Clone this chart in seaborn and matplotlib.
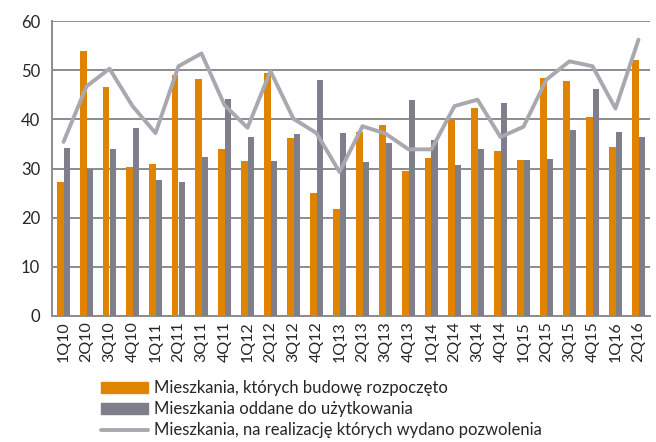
import numpy as np
import pandas as pd
import matplotlib
matplotlib.use("Agg")
import matplotlib.pyplot as plt
import seaborn as sns
from matplotlib.patches import Patch
from matplotlib.lines import Line2D

# Data (thousands of dwellings per quarter)
quarters = ['1Q10', '2Q10', '3Q10', '4Q10', '1Q11', '2Q11', '3Q11', '4Q11',
            '1Q12', '2Q12', '3Q12', '4Q12', '1Q13', '2Q13', '3Q13', '4Q13',
            '1Q14', '2Q14', '3Q14', '4Q14', '1Q15', '2Q15', '3Q15', '4Q15',
            '1Q16', '2Q16']
started = [27.3, 53.8, 46.6, 30.3, 31.0, 49.0, 48.3, 33.9, 31.5, 49.4, 36.2, 25.1,
           21.7, 37.4, 38.9, 29.5, 32.2, 40.1, 42.3, 33.6, 31.8, 48.5, 47.8, 40.4,
           34.3, 52.0]
completed = [34.1, 29.8, 33.9, 38.3, 27.6, 27.2, 32.4, 44.2, 36.4, 31.6, 37.0, 48.1,
             37.2, 31.4, 35.2, 43.9, 35.7, 30.7, 33.9, 43.3, 31.8, 32.0, 37.8, 46.2,
             37.4, 36.4]
permits = [35.4, 46.7, 50.3, 42.7, 37.2, 50.8, 53.4, 42.9, 38.3, 49.8, 40.1, 37.2,
           29.3, 38.6, 37.1, 33.9, 33.9, 42.7, 44.0, 36.4, 38.5, 48.1, 51.8, 50.8,
           42.2, 56.2]

label_started = 'Mieszkania, których budowę rozpoczęto'
label_completed = 'Mieszkania oddane do użytkowania'
label_permits = 'Mieszkania, na realizację których wydano pozwolenia'

ORANGE = '#E08300'
GRAY = '#7F7F8B'
LINE = '#A8A8B0'
GRID = '#8C8C8C'

sns.set_style("white")
plt.rcParams['font.family'] = ['Lato', 'DejaVu Sans']

bars = pd.DataFrame({
    'Kwartał': quarters * 2,
    'Wartość': started + completed,
    'Seria': [label_started] * len(quarters) + [label_completed] * len(quarters),
})

fig = plt.figure(figsize=(6.56, 4.42), dpi=100)
ax = fig.add_axes([52 / 656, 1 - 316 / 442, 598 / 656, 295 / 442])

sns.barplot(data=bars, x='Kwartał', y='Wartość', hue='Seria',
            palette=[ORANGE, GRAY], width=0.6, gap=0.0, saturation=1,
            linewidth=0, order=quarters, ax=ax, legend=False, zorder=3)
sns.lineplot(x=np.arange(len(quarters)), y=permits, color=LINE, lw=2.8,
             ax=ax, legend=False, zorder=4)

ax.set_xlim(-0.5, len(quarters) - 0.5)
ax.set_ylim(0, 60)
ax.set_yticks(range(0, 61, 10))
ax.yaxis.grid(True, color=GRID, lw=1.4, zorder=0)
ax.set_axisbelow(True)
ax.set_xlabel('')
ax.set_ylabel('')

ax.tick_params(axis='x', which='major', length=0, rotation=90, labelsize=11.5, pad=4)
ax.set_xticks(np.arange(len(quarters)) + 0.5, minor=True)
ax.tick_params(axis='x', which='minor', length=5, color=GRID, width=1.2)
ax.tick_params(axis='y', length=5, color=GRID, width=1.2, labelsize=12)

for side in ['top', 'right']:
    ax.spines[side].set_visible(False)
for side in ['left', 'bottom']:
    ax.spines[side].set_color(GRID)
    ax.spines[side].set_linewidth(1.4)

# Legend below the plot
handles = [Patch(color=ORANGE), Patch(color=GRAY), Line2D([], [], color=LINE, lw=2.8)]
labels = [label_started, label_completed, label_permits]
fig.legend(handles, labels, loc='upper left', bbox_to_anchor=(93 / 656, 1 - 372 / 442),
           frameon=False, fontsize=12, handlelength=2.8, handleheight=0.6,
           handletextpad=0.35, labelspacing=0.3, borderpad=0)

fig.savefig('out.png', dpi=100)
